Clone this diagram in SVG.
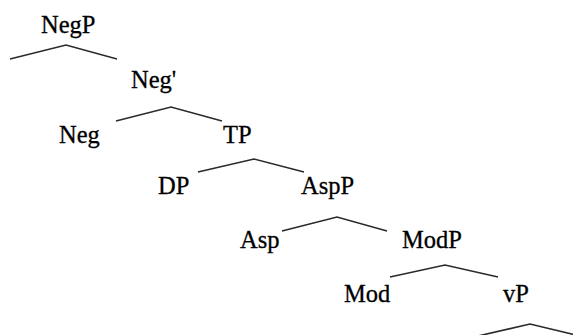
<svg xmlns="http://www.w3.org/2000/svg" width="573" height="335" viewBox="0 0 573 335">
<style>
text{font-family:"Liberation Serif","Times New Roman",serif;font-size:24.5px;fill:#000;stroke:#000;stroke-width:0.3}
.br{fill:none;stroke:#2a2a2a;stroke-width:1.6}
</style>
<rect width="573" height="335" fill="#fff"/>
<g id="connectors">
<polyline class="br" points="10,59 66,45 117,59"/>
<polyline class="br" points="116,121 171,107 222,121"/>
<polyline class="br" points="198,172 254,159 304,172"/>
<polyline class="br" points="282,231 337,217 387,231"/>
<polyline class="br" points="390,277 445,265 498,277"/>
<polyline class="br" points="478,336 530,324 580,336"/>
</g>
<g id="NegP"><text x="41" y="33">NegP</text></g>
<g id="NegBar"><text x="131" y="88">Neg'</text></g>
<g id="Neg"><text x="59" y="143">Neg</text></g>
<g id="TP"><text x="223" y="143">TP</text></g>
<g id="DP"><text x="158" y="194">DP</text></g>
<g id="AspP"><text x="301" y="194">AspP</text></g>
<g id="Asp"><text x="240" y="248">Asp</text></g>
<g id="ModP"><text x="402" y="248">ModP</text></g>
<g id="Mod"><text x="344" y="302">Mod</text></g>
<g id="vP"><text x="503" y="302">vP</text></g>
</svg>
